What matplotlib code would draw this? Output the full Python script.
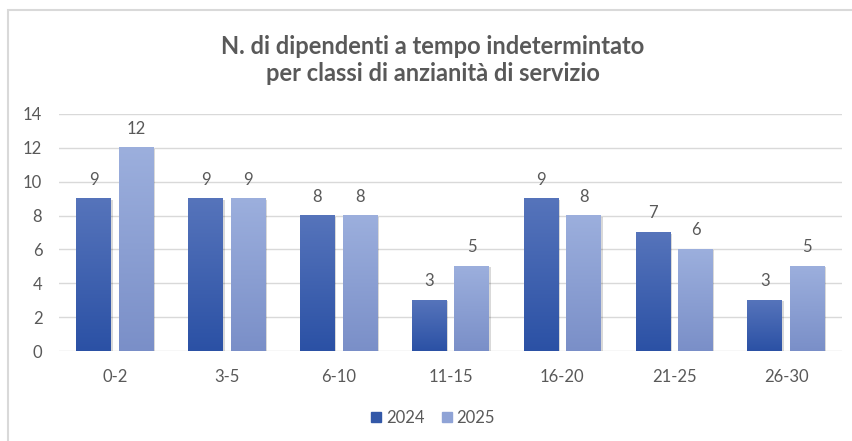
import numpy as np
import matplotlib
matplotlib.use('Agg')
import matplotlib.pyplot as plt
from matplotlib.colors import LinearSegmentedColormap
from matplotlib.patches import Rectangle

# Data
categories = ['0-2', '3-5', '6-10', '11-15', '16-20', '21-25', '26-30']
values_2024 = [9, 9, 8, 3, 9, 7, 3]
values_2025 = [12, 9, 8, 5, 8, 6, 5]
series_labels = ['2024', '2025']

title = 'N. di dipendenti a tempo indetermintato\nper classi di anzianità di servizio'

txt_color = '#595959'
plt.rcParams['font.family'] = ['Lato', 'DejaVu Sans']

# gradients: (top colour, bottom colour)
grad_2024 = ('#5674bb', '#2b51a5')
grad_2025 = ('#9cafdd', '#7a8fc8')
solid_2024 = '#3358a8'
solid_2025 = '#8fa3d6'


def gradient_bars(ax, bars, top, bottom):
    cmap = LinearSegmentedColormap.from_list('g', [bottom, top])
    grad = np.linspace(0, 1, 256).reshape(-1, 1)
    for b in bars:
        x0, y0 = b.get_x(), b.get_y()
        w, h = b.get_width(), b.get_height()
        # soft shadow
        ax.add_patch(Rectangle((x0 + 0.015, y0), w, h - 0.06, color='#000000',
                               alpha=0.15, lw=0, zorder=2))
        ax.imshow(grad, extent=(x0, x0 + w, y0, y0 + h), origin='lower',
                  cmap=cmap, aspect='auto', zorder=3)
        b.set_alpha(0)


def main():
    fig = plt.figure(figsize=(8.53, 4.41), dpi=100)
    # chart border
    fig.patches.append(Rectangle((8 / 853, -0.05), 1.0, 1 - 10 / 441 + 0.05,
                                 transform=fig.transFigure, fill=False,
                                 edgecolor='#d9d9d9', lw=1.5))
    ax = fig.add_axes([59 / 853, 1 - 351 / 441, 783 / 853, 237 / 441])

    x = np.arange(len(categories))
    w = 0.31
    off = 0.19
    b1 = ax.bar(x - off, values_2024, w, color=solid_2024, label=series_labels[0], zorder=3)
    b2 = ax.bar(x + off, values_2025, w, color=solid_2025, label=series_labels[1], zorder=3)
    gradient_bars(ax, b1, *grad_2024)
    gradient_bars(ax, b2, *grad_2025)

    for bars, vals in ((b1, values_2024), (b2, values_2025)):
        for b, v in zip(bars, vals):
            ax.text(b.get_x() + b.get_width() / 2, v + 0.65, str(v), ha='center',
                    va='bottom', fontsize=12, color=txt_color, zorder=5)

    ax.set_xlim(-0.5, len(categories) - 0.5)
    ax.set_ylim(0, 14)
    ax.set_yticks(range(0, 15, 2))
    ax.set_xticks(x)
    ax.set_xticklabels(categories)
    ax.tick_params(axis='both', length=0, labelsize=12, colors=txt_color)
    ax.tick_params(axis='x', pad=13)
    ax.tick_params(axis='y', pad=12)
    ax.grid(axis='y', color='#d9d9d9', lw=1, zorder=0)
    ax.set_axisbelow(True)
    for s in ax.spines.values():
        s.set_visible(False)

    fig.text(0.507, 1 - 60 / 441, title, ha='center', va='center', fontsize=17,
             fontweight='bold', color=txt_color, linespacing=1.25)

    handles = [Rectangle((0, 0), 1, 1, color=solid_2024),
               Rectangle((0, 0), 1, 1, color=solid_2025)]
    fig.legend(handles, series_labels, loc='center', bbox_to_anchor=(0.508, 1 - 418 / 441),
               ncol=2, frameon=False, fontsize=12, labelcolor=txt_color,
               handlelength=0.6, handleheight=0.6, handletextpad=0.3, columnspacing=1.0)

    fig.savefig('out.png', dpi=100)


if __name__ == '__main__':
    main()
